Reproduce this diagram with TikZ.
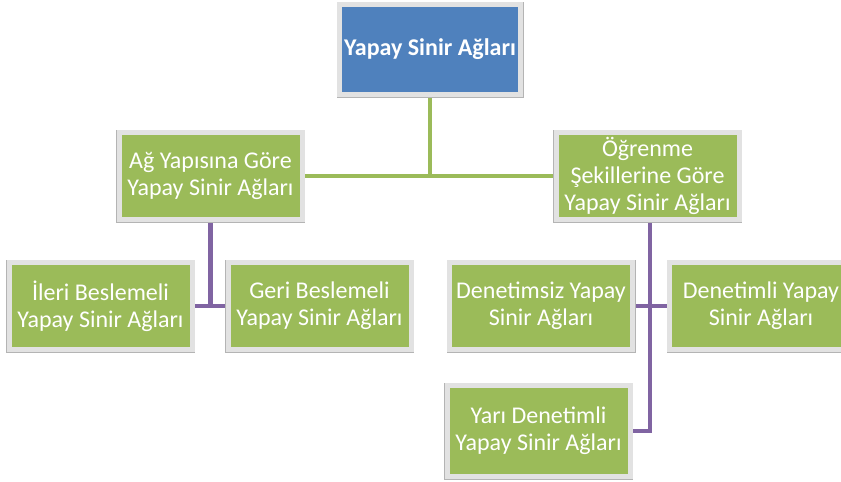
\documentclass[tikz,border=0pt]{standalone}
\usepackage{fontspec}
\setmainfont{Carlito}
\usetikzlibrary{backgrounds}
\definecolor{topblue}{HTML}{4F81BD}
\definecolor{leafgreen}{HTML}{9BBB59}
\definecolor{linkpurple}{HTML}{8064A2}
\definecolor{rimgray}{HTML}{E2E2E2}
\definecolor{edgegray}{HTML}{B4B4B4}
\tikzset{
  x=1pt, y=-1pt,
  card/.style={rectangle, draw=rimgray, line width=5pt, text=white,
    align=center, inner sep=2pt,
    font=\fontsize{24}{27}\selectfont,
    minimum width=183pt, minimum height=87pt,
    append after command={
      \pgfextra{\draw[edgegray, line width=0.9pt]
        (\tikzlastnode.north west) rectangle (\tikzlastnode.south east);}}},
  rootcard/.style={card, fill=topblue, font=\fontsize{24}{27}\selectfont\bfseries,
    minimum width=181pt, minimum height=90pt},
  leafcard/.style={card, fill=leafgreen},
  greenlink/.style={draw=leafgreen, line width=4pt},
  purplelink/.style={draw=linkpurple, line width=4.5pt},
}
\begin{document}
\begin{tikzpicture}
  \useasboundingbox (0,0) rectangle (841,482);

  % hierarchy boxes
  \node[rootcard] (root) at (430,49.5) {Yapay Sinir Ağları};
  \node[leafcard] (yapi) at (210.5,176) {Ağ Yapısına Göre\\Yapay Sinir Ağları};
  \node[leafcard] (ogrenme) at (647.5,176) {Öğrenme\\Şekillerine Göre\\Yapay Sinir Ağları};
  \node[leafcard] (ileri) at (100.5,306) {İleri Beslemeli\\Yapay Sinir Ağları};
  \node[leafcard] (geri) at (319.5,306) {Geri Beslemeli\\Yapay Sinir Ağları};
  \node[leafcard] (denetimsiz) at (541,306) {Denetimsiz Yapay\\Sinir Ağları};
  \node[leafcard] (denetimli) at (761,306) {Denetimli Yapay\\Sinir Ağları};
  \node[leafcard, minimum height=91pt] (yari) at (538.5,431) {Yarı Denetimli\\Yapay Sinir Ağları};

  % connectors behind the boxes
  \begin{pgfonlayer}{background}
    \fill[white] (0,0) rectangle (841,482);
    \draw[greenlink] (root.south) -- (root.south |- yapi.east);
    \draw[greenlink] (yapi.east) -- (ogrenme.west);
    \draw[purplelink] (yapi.south) -- (yapi.south |- ileri.east);
    \draw[purplelink] (ileri.east) -- (geri.west);
    \draw[purplelink] ([xshift=2.5pt]ogrenme.south) |- (yari.east);
    \draw[purplelink] (denetimsiz.east) -- (denetimli.west);
  \end{pgfonlayer}
\end{tikzpicture}
\end{document}
